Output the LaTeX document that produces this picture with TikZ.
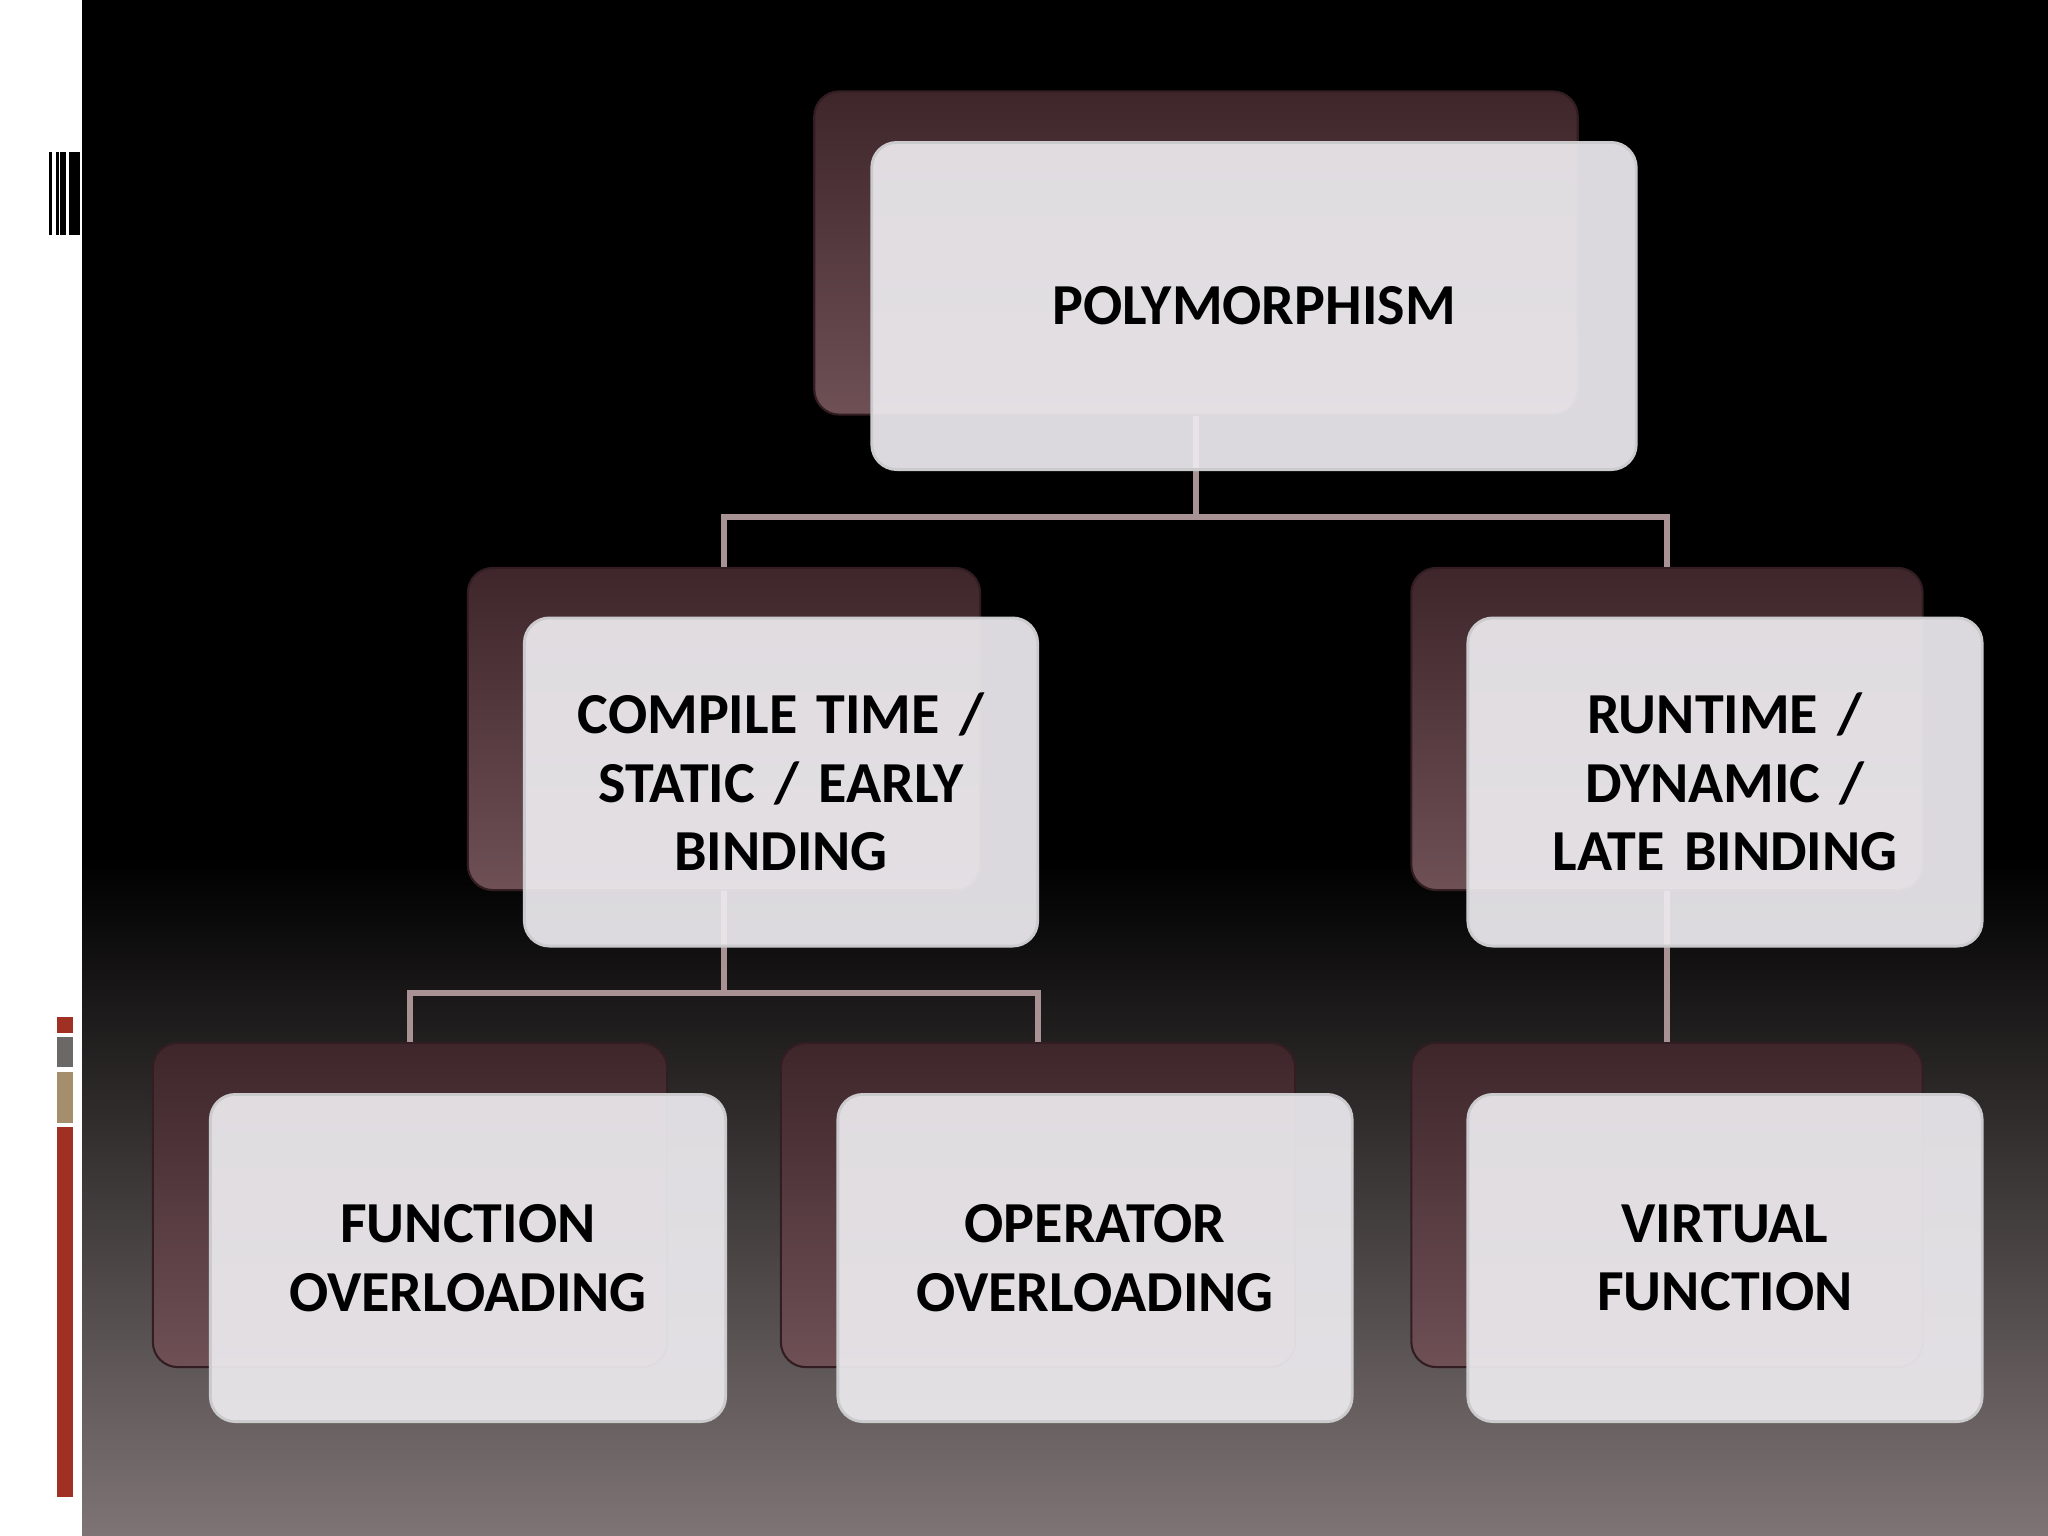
\documentclass[tikz,border=0pt]{standalone}
\usepackage{fontspec}
\setmainfont{Carlito}
\begin{document}
\begin{tikzpicture}[x=0.01cm,y=-0.01cm,
  backbox/.style={rounded corners=0.25cm, top color=bkA, bottom color=bkB, draw=bkA!80!black, line width=0.6pt},
  frontbox/.style={rounded corners=0.25cm, fill=frontc, fill opacity=0.93, draw=frontc!70!gray, line width=0.8pt, text opacity=1,
    font=\fontsize{16.5}{19.5}\selectfont\bfseries, align=center, text=black},
  conn/.style={draw=connc, line width=1.5pt}]
\definecolor{bkA}{HTML}{3E262B}
\definecolor{bkB}{HTML}{6E5055}
\definecolor{frontc}{HTML}{ECEAEE}
\definecolor{connc}{HTML}{A89294}
\definecolor{barred}{HTML}{A03024}
\definecolor{bargray}{HTML}{6B6968}
\definecolor{bartan}{HTML}{A58E6C}
\definecolor{bgbot}{HTML}{7E7475}
\useasboundingbox (0,0) rectangle (2048,1536);
\fill[white] (0,0) rectangle (2048,1536);
\fill[black] (82,0) rectangle (2048,860);
\shade[top color=black, bottom color=bgbot] (82,859) rectangle (2048,1536);
% barcode
\fill[black] (49,152) rectangle (52,235);
\fill[black] (56,152) rectangle (59,235);
\fill[black] (60,152) rectangle (66,235);
\fill[black] (69,152) rectangle (80,235);
% side bars
\fill[barred] (57,1017) rectangle (73,1033);
\fill[bargray] (57,1037) rectangle (73,1067);
\fill[bartan] (57,1072) rectangle (73,1123);
\fill[barred] (57,1127) rectangle (73,1497);
% back boxes
\node[backbox, minimum width=7.63cm, minimum height=3.23cm] (pb) at (1196,253) {};
\node[backbox, minimum width=5.12cm, minimum height=3.22cm] (cb) at (724,729) {};
\node[backbox, minimum width=5.11cm, minimum height=3.22cm] (rb) at (1667,729) {};
\node[backbox, minimum width=5.14cm, minimum height=3.24cm] (fb) at (410,1205) {};
\node[backbox, minimum width=5.14cm, minimum height=3.24cm] (ob) at (1038,1205) {};
\node[backbox, minimum width=5.11cm, minimum height=3.24cm] (vb) at (1667,1205) {};
% connectors
\draw[conn] (pb.south) -- (1196,517) -| (cb.north);
\draw[conn] (1196,517) -| (rb.north);
\draw[conn] (cb.south) -- (724,993) -| (fb.north);
\draw[conn] (724,993) -| (ob.north);
\draw[conn] (rb.south) -- (vb.north);
% front boxes
\node[frontbox, minimum width=7.64cm, minimum height=3.27cm, text width=7cm] (p) at (1254,306) {POLYMORPHISM};
\node[frontbox, minimum width=5.13cm, minimum height=3.28cm, text width=4.6cm] (c) at (781,782) {COMPILE TIME /\\STATIC / EARLY\\BINDING};
\node[frontbox, minimum width=5.14cm, minimum height=3.28cm, text width=4.6cm] (r) at (1725,782) {RUNTIME /\\DYNAMIC /\\LATE BINDING};
\node[frontbox, minimum width=5.15cm, minimum height=3.27cm, text width=4.6cm] (f) at (468,1258) {FUNCTION\\OVERLOADING};
\node[frontbox, minimum width=5.14cm, minimum height=3.27cm, text width=4.6cm] (o) at (1095,1258) {OPERATOR\\OVERLOADING};
\node[frontbox, minimum width=5.14cm, minimum height=3.27cm, text width=4.6cm] (v) at (1725,1258) {VIRTUAL\\FUNCTION};
\end{tikzpicture}
\end{document}
